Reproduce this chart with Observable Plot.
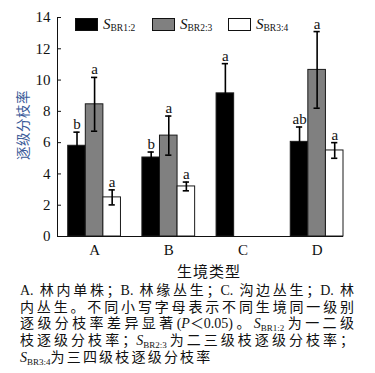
<!DOCTYPE html>
<html>
<head>
<meta charset="utf-8">
<script src="https://cdn.jsdelivr.net/npm/d3@7"></script>
<script src="https://cdn.jsdelivr.net/npm/@observablehq/plot@0.6"></script>
<style>
  body { margin: 0; background: #fff; }
  #wrap { position: relative; width: 375px; height: 373px; background: #fff; overflow: hidden;
          font-family: "Liberation Serif", "Noto Sans CJK SC", serif; color: #111; }
  #chart { position: absolute; left: 0; top: 0; }
  .leg { position: absolute; top: 17px; height: 14px; display: flex; align-items: center; font-size: 15px; }
  .box { width: 21px; height: 11px; border: 1px solid #111; margin-right: 5px; }
  .S { font-style: italic; }
  .sub { font-size: 9.5px; position: relative; top: 4px; font-style: normal; letter-spacing: 0; }
  #ylab { position: absolute; left: 22px; top: 125px; transform: translate(-50%, -50%) rotate(-90deg);
          white-space: nowrap; font-family: "Noto Sans CJK SC", sans-serif; font-size: 13.5px; color: #3a5a98; letter-spacing: 0.5px; }
  #xlab { position: absolute; left: 209px; top: 270px; transform: translate(-50%, -50%);
          font-family: "Noto Sans CJK SC", sans-serif; font-size: 15px; letter-spacing: 1px; white-space: nowrap; }
  #cap { position: absolute; left: 20px; top: 283px; width: 334px; font-size: 14px; line-height: 16.7px; }
  #cap .ln { text-align: justify; text-align-last: justify; white-space: nowrap; height: 16.7px; }
  #cap .ln.last { text-align: left; text-align-last: left; }
  #cap .ln.last .cj { letter-spacing: 2.2px; }
  #cap .sub { font-size: 9px; top: 3px; letter-spacing: 0; }
</style>
</head>
<body>
<div id="wrap">
  <div id="chart"></div>
  <div id="ylab">逐级分枝率</div>
  <div id="xlab">生境类型</div>
  <div id="cap"></div>
</div>
<script>
// ---- data ----
const groups = ["A", "B", "C", "D"];
const seriesKeys = ["BR1:2", "BR2:3", "BR3:4"];
const seriesFill = ["#000000", "#808080", "#ffffff"];
const mean12 = [5.8, 5.05, 9.15, 6.05];
const err12  = [0.87, 0.35, 1.9, 0.95];
const mean23 = [8.45, 6.45, null, 10.65];
const err23  = [1.72, 1.25, null, 2.45];
const mean34 = [2.5, 3.2, null, 5.5];
const err34  = [0.48, 0.28, null, 0.5];
const sig12 = ["b", "b", "a", "ab"];
const sig23 = ["a", "a", null, "a"];
const sig34 = ["a", "a", null, "a"];
const yTicks = [0, 2, 4, 6, 8, 10, 12, 14];

// ---- build table ----
const means = [mean12, mean23, mean34];
const errs = [err12, err23, err34];
const sigs = [sig12, sig23, sig34];
const bw = 0.237;    // bar width in group-step units
const capHalf = 0.042;
const rows = [];
groups.forEach((g, gi) => {
  seriesKeys.forEach((s, si) => {
    const m = means[si][gi];
    if (m == null) return;
    const xc = gi + 0.5 + (si - 1) * bw;
    rows.push({group: g, series: s, fill: seriesFill[si], mean: m, err: errs[si][gi],
               lo: m - errs[si][gi], hi: m + errs[si][gi], sig: sigs[si][gi],
               xc, x1: xc - bw / 2, x2: xc + bw / 2});
  });
});
const xmax = d3.max(rows, d => d.x2);
const groupCenters = groups.map((g, i) => i + 0.5);

const chart = Plot.plot({
  width: 375,
  height: 262,
  marginLeft: 57,
  marginRight: 32,
  marginTop: 17,
  marginBottom: 26,
  x: {type: "linear", domain: [0, xmax], axis: null},
  y: {domain: [0, 14], axis: null},
  style: {fontFamily: "'Liberation Serif', serif", fontSize: "15px", background: "white", color: "#111", overflow: "visible"},
  marks: [
    Plot.rectY(rows, {x1: "x1", x2: "x2", y1: 0, y2: "mean", fill: "fill", stroke: "#1a1a1a", strokeWidth: 1}),
    Plot.ruleX(rows, {x: "xc", y1: "lo", y2: "hi", stroke: "#000", strokeWidth: 1.6}),
    Plot.ruleY(rows, {y: "hi", x1: d => d.xc - capHalf, x2: d => d.xc + capHalf, stroke: "#000", strokeWidth: 1.6}),
    Plot.ruleY(rows, {y: "lo", x1: d => d.xc - capHalf, x2: d => d.xc + capHalf, stroke: "#000", strokeWidth: 1.6}),
    Plot.text(rows.filter(d => d.sig), {x: "xc", y: "hi", text: "sig", lineAnchor: "bottom", dy: -3, fontSize: 15, fill: "#111"}),
    Plot.axisY({ticks: yTicks, tickSize: 0, tickPadding: 7, tickFormat: d => d, label: null, fontSize: 15}),
    Plot.axisY({ticks: yTicks, tickSize: 4, dx: 4, tickFormat: () => "", label: null, stroke: "#111"}),
    Plot.axisX({ticks: groupCenters, tickFormat: d => groups[Math.floor(d)], tickSize: 0, tickPadding: 8, label: null, fontSize: 15}),
    Plot.ruleX([0], {stroke: "#111", strokeWidth: 1}),
    Plot.ruleY([0], {stroke: "#111", strokeWidth: 1})
  ]
});
document.getElementById("chart").appendChild(chart);

// ---- legend ----
const wrap = document.getElementById("wrap");
const legLeft = [75, 152, 228];
seriesKeys.forEach((s, i) => {
  const el = document.createElement("div");
  el.className = "leg";
  el.style.left = legLeft[i] + "px";
  el.innerHTML = `<span class="box" style="background:${seriesFill[i]}"></span><span class="S">S</span><span class="sub">${s}</span>`;
  wrap.appendChild(el);
});

// ---- caption ----
const S = k => `<span class="S">S</span><span class="sub">${k}</span>`;
const capLines = [
  "A. 林内单株；B. 林缘丛生；C. 沟边丛生；D. 林",
  "内丛生。不同小写字母表示不同生境同一级别",
  "逐级分枝率差异显著(<i>P</i>＜0.05)。" + S("BR1:2") + "为一二级",
  "枝逐级分枝率；" + S("BR2:3") + "为二三级枝逐级分枝率；",
  S("BR3:4") + "<span class=\"cj\">为三四级枝逐级分枝率</span>"
];
const cap = document.getElementById("cap");
capLines.forEach((t, i) => {
  const d = document.createElement("div");
  d.className = "ln" + (i === capLines.length - 1 ? " last" : "");
  d.innerHTML = t;
  cap.appendChild(d);
});
</script>
</body>
</html>
